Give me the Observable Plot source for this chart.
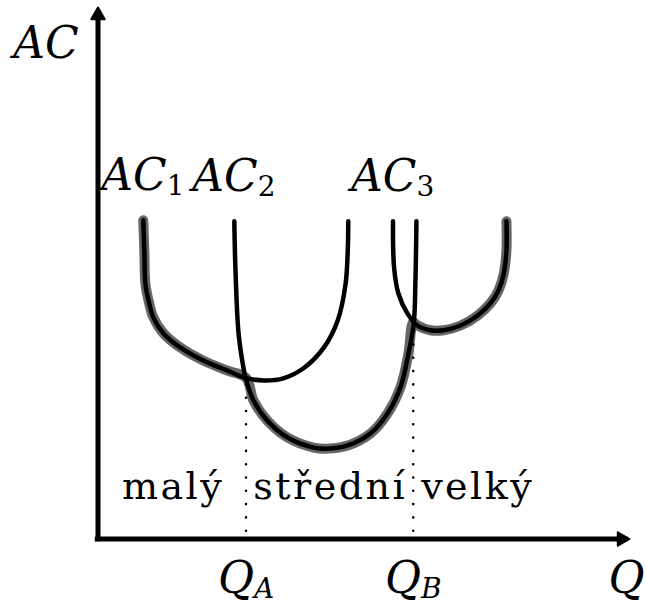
<!DOCTYPE html>
<html><head><meta charset="utf-8">
<script src="https://cdn.jsdelivr.net/npm/d3@7"></script>
<script src="https://cdn.jsdelivr.net/npm/@observablehq/plot@0.6"></script>
<style>body{margin:0;background:#fff;}</style>
</head><body><div id="chart"></div>
<script>
// Curves (Q on x, AC on y), arbitrary units
const ac1X = [0.85,0.87,0.89,0.95,1.04,1.23,1.55,1.97,2.42,2.77,3.11,3.48,3.86,4.24,4.50,4.65,4.69,4.70];
const ac1Y = [6.03,5.46,4.83,4.51,4.19,3.89,3.62,3.38,3.19,3.05,3.00,3.04,3.23,3.62,4.13,4.83,5.46,6.01];
const ac2X = [2.56,2.58,2.64,2.73,2.77,2.92,3.18,3.56,4.05,4.31,4.69,5.12,5.44,5.68,5.83,5.93,5.96,5.98];
const ac2Y = [6.01,5.14,3.89,3.25,3.06,2.62,2.24,1.92,1.73,1.71,1.77,2.00,2.38,2.87,3.51,4.08,4.83,6.01];
const ac3X = [5.54,5.56,5.64,5.81,6.00,6.24,6.49,6.81,7.13,7.37,7.52,7.62,7.67,7.67];
const ac3Y = [6.01,5.14,4.65,4.27,4.04,3.95,3.95,4.04,4.23,4.46,4.70,5.02,5.46,6.01];
const curveNames = ["AC_1","AC_2","AC_3"];

// Thresholds where the cheapest plant size changes
const qNames = ["Q_A","Q_B"];
const qValues = [2.78, 5.92];
const qCosts = [3.05, 4.10];

// Plant size labels
const regionNames = ["malý","střední","velký"];
const regionQ = [1.41, 4.36, 7.13];
const regionAC = 0.75;

const xAxisLabel = "Q";
const yAxisLabel = "AC";
const qMax = 10, acMax = 10;

const toPts = (X, Y, name) => X.map((x, i) => ({name, x, y: Y[i]}));
const curves = [toPts(ac1X, ac1Y, curveNames[0]), toPts(ac2X, ac2Y, curveNames[1]), toPts(ac3X, ac3Y, curveNames[2])];
const allCurves = curves.flat();
const tol = 0.02;
const envelope = [
  ...curves[0].filter(d => d.x < qValues[0] - tol),
  {x: qValues[0], y: qCosts[0]},
  ...curves[1].filter(d => d.x > qValues[0] + tol && d.x < qValues[1] - tol),
  {x: qValues[1], y: qCosts[1]},
  ...curves[2].filter(d => d.x > qValues[1] + tol)
];
const curveLabels = curves.map(c => c[0]);
const qRows = qNames.map((name, i) => ({name, x: qValues[i], y: qCosts[i]}));
const regionRows = regionNames.map((name, i) => ({name, x: regionQ[i], y: regionAC}));

const font = "DejaVu Serif";
const plot = Plot.plot({
  width: 646, height: 606,
  marginLeft: 97.5, marginRight: 16, marginTop: 10, marginBottom: 67.5,
  x: {domain: [0, qMax], axis: null},
  y: {domain: [0, acMax], axis: null},
  style: {background: "white", fontFamily: font},
  marks: [
    Plot.line(envelope, {x: "x", y: "y", curve: "catmull-rom", stroke: "#666", strokeWidth: 10, strokeLinecap: "round", strokeLinejoin: "round"}),
    Plot.line(allCurves, {x: "x", y: "y", z: "name", curve: "catmull-rom", stroke: "black", strokeWidth: 4.5, strokeLinecap: "round"}),
    Plot.ruleX(qRows, {x: "x", y1: 0, y2: "y", stroke: "black", strokeWidth: 2.6, strokeLinecap: "round", strokeDasharray: "0 13.3", strokeDashoffset: 5.5}),
    Plot.ruleX([0], {y1: -0.05, y2: acMax, stroke: "black", strokeWidth: 5}),
    Plot.ruleY([0], {x1: -0.05, x2: qMax - 0.05, stroke: "black", strokeWidth: 5}),
    Plot.dot([0], {x: 0, y: acMax, symbol: "triangle", r: 5, fill: "black", stroke: "black", strokeWidth: 2, strokeLinejoin: "round", dy: 4.8}),
    Plot.dot([0], {x: qMax, y: 0, symbol: "triangle", r: 5, rotate: 90, fill: "black", stroke: "black", strokeWidth: 2, strokeLinejoin: "round", dx: -8.8}),
    Plot.text(curveLabels, {x: "x", y: "y", text: "name", dx: -42, dy: -30, textAnchor: "start", lineAnchor: "bottom", fontSize: 44, fontStyle: "italic", fontFamily: font}),
    Plot.text(qRows, {x: "x", y: 0, text: "name", dy: 54, textAnchor: "middle", lineAnchor: "bottom", fontSize: 44, fontStyle: "italic", fontFamily: font}),
    Plot.text([xAxisLabel], {x: qMax, y: 0, text: d => d, dx: -4, dy: 54, textAnchor: "middle", lineAnchor: "bottom", fontSize: 44, fontStyle: "italic", fontFamily: font}),
    Plot.text([yAxisLabel], {x: 0, y: acMax, text: d => d, dx: -52, dy: 47, textAnchor: "middle", lineAnchor: "bottom", fontSize: 44, fontStyle: "italic", fontFamily: font}),
    Plot.text(regionRows, {x: "x", y: "y", text: "name", textAnchor: "middle", lineAnchor: "bottom", fontSize: 38, fontFamily: font})
  ]
});
document.getElementById("chart").appendChild(plot);

// subscripts and letter spacing
d3.select(plot).selectAll("text").each(function() {
  const t = this.textContent;
  if (regionNames.includes(t)) { this.style.letterSpacing = "2.5px"; return; }
  if (t.includes("_")) {
    const [main, sub] = t.split("_");
    const sel = d3.select(this);
    this.textContent = "";
    sel.append("tspan").text(main);
    const s = sel.append("tspan").attr("dy", 5).attr("font-size", 28).text(sub);
    if (/\d/.test(sub)) s.attr("font-style", "normal");
  }
});
</script>
</body></html>
